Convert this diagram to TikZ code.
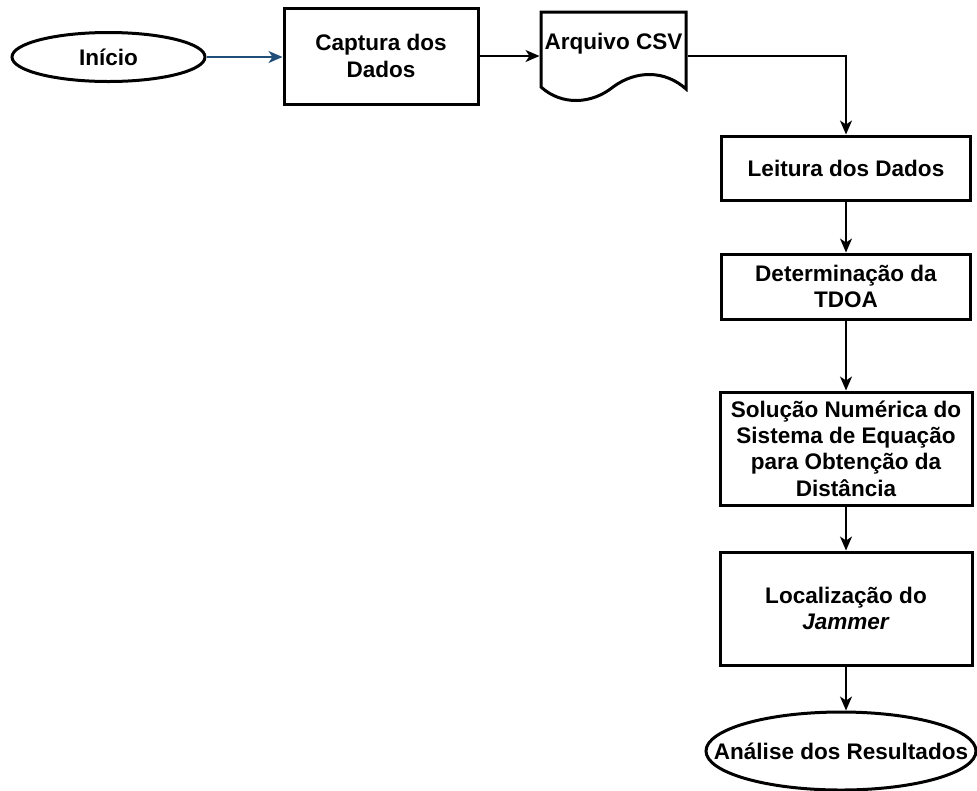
\documentclass[tikz,border=0pt]{standalone}
\usepackage{fontspec}
\setmainfont{Liberation Sans}
\usetikzlibrary{shapes.geometric,arrows.meta}
\definecolor{linkblue}{HTML}{1F4E79}
\begin{document}
\begin{tikzpicture}[x=0.75pt,y=-0.75pt,
  base/.style={font=\fontsize{16.9}{19.8}\selectfont\bfseries, align=center, inner sep=0pt, line width=2.25pt},
  proc/.style={base, draw, rectangle},
  term/.style={base, draw, ellipse},
  conn/.style={line width=1.1pt, -{Stealth[length=10.5pt,width=9pt,inset=3pt]}},
]
\useasboundingbox (0,0) rectangle (977,790);
\node[term, minimum width=144.75pt, minimum height=36.75pt] (ini) at (108.5,57) {};
\node[base] (initxt) at (ini.center) {Início};
\node[proc, minimum width=145.5pt, minimum height=72pt] (cap) at (381,56) {Captura dos\\Dados};
\node[base, minimum width=108.75pt, minimum height=48pt] (csv) at (613.5,44) {Arquivo CSV};
\draw[line width=2.25pt] (541,12) -- (686,12) -- (686,89)
  .. controls (665,70) and (636,70) .. (613,87)
  .. controls (592,104) and (562,106) .. (541,87) -- cycle;
\node[proc, minimum width=186.75pt, minimum height=48pt] (lei) at (846,168) {Leitura dos Dados};
\node[proc, minimum width=186.75pt, minimum height=48.75pt] (det) at (846,286.5) {Determinação da\\TDOA};
\node[proc, minimum width=189pt, minimum height=84.75pt] (sol) at (846,448.5) {Solução Numérica do\\Sistema de Equação\\para Obtenção da\\Distância};
\node[proc, minimum width=189pt, minimum height=84.75pt] (loc) at (846,608.5) {Localização do\\\textit{Jammer}};
\node[term, minimum width=202.5pt, minimum height=58.5pt] (ana) at (841,751) {};
\node[base] (anatxt) at (ana.center) {Análise dos Resultados};

\draw[conn, draw=linkblue] (ini.east) -- (ini.east -| cap.west);
\draw[conn] (cap.east) -- (cap.east -| csv.west);
\draw[conn] (cap.east -| csv.east) -| (lei.north);
\draw[conn] (lei.south) -- (det.north);
\draw[conn] (det.south) -- (sol.north);
\draw[conn] (sol.south) -- (loc.north);
\draw[conn] (loc.south) -- (loc.south |- ana.north);
\end{tikzpicture}
\end{document}
